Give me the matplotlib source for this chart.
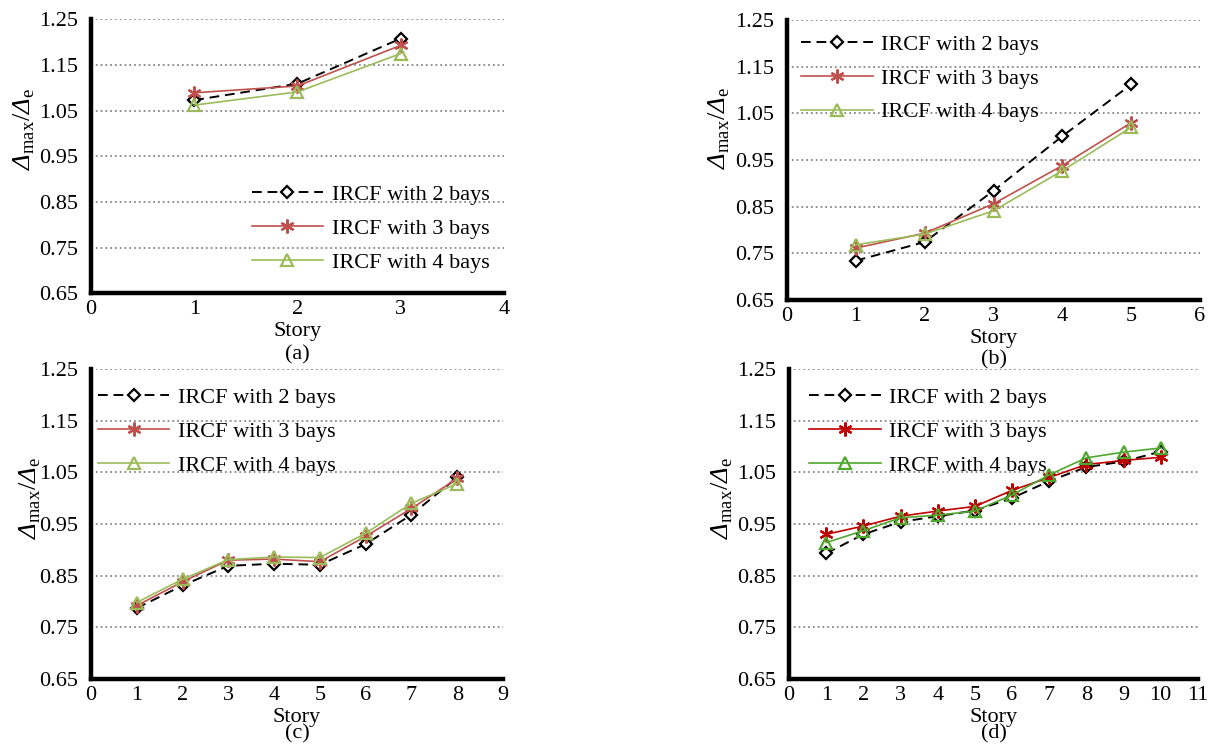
import numpy as np
import matplotlib.pyplot as plt

plt.rcParams['font.family'] = ['Liberation Serif', 'DejaVu Serif']
plt.rcParams['mathtext.fontset'] = 'custom'
plt.rcParams['mathtext.rm'] = 'Liberation Serif'
# italic capital Greek via the sf slot (the it slot forces Greek capitals upright)
plt.rcParams['mathtext.sf'] = 'Liberation Serif:italic'

# story drift ratio data
stories_a = [1, 2, 3]
bays2_a = [1.073, 1.109, 1.208]
bays3_a = [1.089, 1.104, 1.193]
bays4_a = [1.062, 1.091, 1.175]

stories_b = [1, 2, 3, 4, 5]
bays2_b = [0.734, 0.774, 0.884, 1.001, 1.112]
bays3_b = [0.761, 0.793, 0.856, 0.938, 1.030]
bays4_b = [0.768, 0.791, 0.841, 0.927, 1.020]

stories_c = [1, 2, 3, 4, 5, 6, 7, 8]
bays2_c = [0.787, 0.831, 0.869, 0.873, 0.871, 0.911, 0.968, 1.040]
bays3_c = [0.792, 0.838, 0.880, 0.882, 0.877, 0.926, 0.980, 1.038]
bays4_c = [0.798, 0.843, 0.881, 0.886, 0.885, 0.932, 0.990, 1.028]

stories_d = [1, 2, 3, 4, 5, 6, 7, 8, 9, 10]
bays2_d = [0.893, 0.930, 0.954, 0.965, 0.976, 1.000, 1.033, 1.060, 1.071, 1.090]
bays3_d = [0.930, 0.946, 0.965, 0.975, 0.984, 1.015, 1.040, 1.065, 1.073, 1.079]
bays4_d = [0.914, 0.937, 0.962, 0.967, 0.975, 1.006, 1.045, 1.078, 1.089, 1.097]

labels = ['IRCF with 2 bays', 'IRCF with 3 bays', 'IRCF with 4 bays']
yticks = [0.65, 0.75, 0.85, 0.95, 1.05, 1.15, 1.25]

fig = plt.figure(figsize=(12.13, 7.44), dpi=100)

panels = [
    # rect, stories, series, xmax, tag, tag y, colors, legend loc, anchor, ylabel coords
    ([0.075, 0.606, 0.3405, 0.368], stories_a, (bays2_a, bays3_a, bays4_a), 4, '(a)', -0.226,
     ('#9BBB59', '#C0504D'), 'lower right', (0.965, 0.075), (-0.131, 0.60)),
    ([0.6488, 0.597, 0.3405, 0.376], stories_b, (bays2_b, bays3_b, bays4_b), 6, '(b)', -0.215,
     ('#9BBB59', '#C0504D'), 'upper left', (0.035, 0.95), (-0.133, 0.614)),
    ([0.075, 0.0874, 0.3397, 0.4167], stories_c, (bays2_c, bays3_c, bays4_c), 9, '(c)', -0.178,
     ('#9BBB59', '#C0504D'), 'upper left', (0.017, 0.94), (-0.117, 0.584)),
    ([0.6505, 0.0874, 0.337, 0.4167], stories_d, (bays2_d, bays3_d, bays4_d), 11, '(d)', -0.178,
     ('#4EA72E', '#C00000'), 'upper left', (0.05, 0.94), (-0.132, 0.584)),
]

for rect, xs, (s2, s3, s4), xmax, tag, tag_y, (c4, c3), loc, anchor, ylc in panels:
    ax = fig.add_axes(rect)
    ax.plot(xs, s2, color='black', linestyle=(0, (5, 3)), linewidth=1.4,
            marker='D', markersize=6, markerfacecolor='white',
            markeredgecolor='black', markeredgewidth=1.6, label=labels[0])
    ax.plot(xs, s3, color=c3, linewidth=1.2, marker=(6, 2, 0), markersize=10,
            markeredgecolor=c3, markeredgewidth=1.6, label=labels[1])
    ax.plot(xs, s4, color=c4, linewidth=1.2, marker='^', markersize=9,
            markerfacecolor='none', markeredgecolor=c4, markeredgewidth=1.6,
            label=labels[2])

    ax.set_xlim(0, xmax)
    ax.set_ylim(0.65, 1.25)
    ax.set_xticks(range(0, xmax + 1))
    ax.set_yticks(yticks)
    ax.set_yticklabels([f'{v:.2f}' for v in yticks])
    ax.tick_params(length=0, labelsize=16)
    ax.tick_params(axis='y', pad=9)
    ax.tick_params(axis='x', pad=5)
    ax.grid(axis='y', color='#888888', linestyle=':', linewidth=1.3)
    ax.set_axisbelow(True)
    for side in ('top', 'right'):
        ax.spines[side].set_visible(False)
    for side in ('left', 'bottom'):
        ax.spines[side].set_linewidth(3.2)
        ax.spines[side].set_color('black')

    ax.set_xlabel('Story', fontsize=16, labelpad=2)
    ax.text(0.5, tag_y, tag, transform=ax.transAxes,
            ha='center', va='center', fontsize=16)
    ax.set_ylabel(r'$\mathsf{Δ}_{\mathrm{max}}/\mathsf{Δ}_{\mathrm{e}}$', fontsize=19)
    ax.yaxis.set_label_coords(*ylc)

    ax.legend(loc=loc, bbox_to_anchor=anchor, frameon=False, fontsize=16,
              handlelength=3.2, handletextpad=0.4, labelspacing=0.6,
              borderaxespad=0, borderpad=0)

fig.savefig('out.png', dpi=100)
